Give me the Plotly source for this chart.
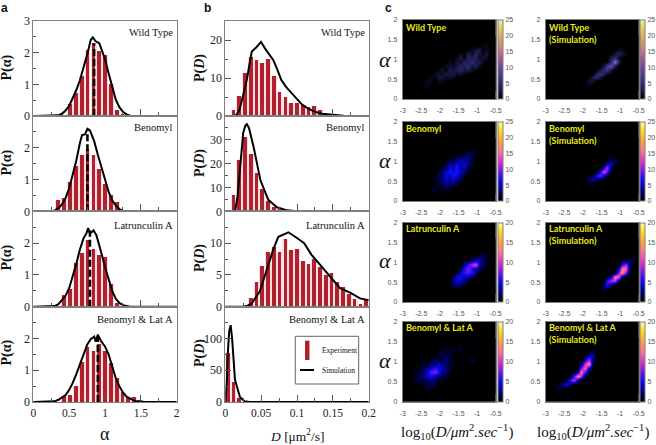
import plotly.graph_objects as go

W, H = 656, 445
SERIF = "Liberation Serif"
SANS = "Liberation Sans"

# ---------- panel a: P(alpha) ----------
alpha_bins = [.352, .433, .517, .600, .680, .760, .845, .925, 1.005, 1.09, 1.17, 1.25, 1.33, 1.41, 1.49]
alpha_wt  = [0, 0, .38, .72, 1.25, 2.08, 2.30, 2.06, 1.93, 1.00, .20, .05, 0, 0, 0]
alpha_ben = [.35, .43, .93, 1.43, 1.78, 1.97, 1.76, 1.33, .85, .52, .28, .05, 0, 0, 0]
alpha_lat = [0, .35, .55, 1.35, 1.67, 2.10, 1.80, 1.62, 1.55, .70, .12, 0, 0, 0, 0]
alpha_bl  = [0, .20, .22, .50, 1.28, 1.73, 1.62, 1.83, 1.63, 1.25, .78, .33, .12, .18, .06]

sim_a_wt_x = [0, .3, .35, .4, .45, .5, .55, .6, .65, .7, .75, .78, .8, .83, .87, .92, .96, 1, 1.05, 1.1, 1.15, 1.2, 1.25, 1.3, 1.35, 1.4, 2]
sim_a_wt_y = [0, 0, .02, .07, .17, .32, .55, .82, 1.13, 1.5, 1.93, 2.2, 2.4, 2.48, 2.36, 2.3, 2.05, 1.8, 1.35, .9, .52, .28, .13, .05, .01, 0, 0]
sim_a_ben_x = [0, .25, .3, .35, .4, .45, .5, .55, .6, .65, .68, .72, .755, .79, .85, .9, .95, 1, 1.05, 1.1, 1.15, 1.2, 1.25, 1.3, 2]
sim_a_ben_y = [0, 0, .03, .1, .22, .42, .72, 1.12, 1.6, 2.15, 2.4, 2.42, 2.6, 2.55, 2.2, 1.78, 1.38, 1, .62, .35, .18, .07, .02, 0, 0]
sim_a_lat_x = [0, .25, .3, .35, .4, .45, .5, .55, .6, .65, .7, .74, .765, .79, .84, .88, .92, .96, 1, 1.05, 1.1, 1.15, 1.2, 1.25, 1.3, 1.35, 2]
sim_a_lat_y = [0, 0, .02, .08, .2, .35, .58, .95, 1.35, 1.8, 2.15, 2.3, 2.47, 2.3, 2.4, 2.25, 1.95, 1.6, 1.25, .85, .5, .25, .12, .05, .02, 0, 0]
sim_a_bl_x = [0, .25, .3, .35, .4, .45, .5, .55, .6, .65, .7, .75, .8, .85, .87, .9, .95, 1, 1.05, 1.1, 1.15, 1.2, 1.25, 1.3, 1.35, 1.4, 1.45, 1.5, 1.55, 2]
sim_a_bl_y = [0, 0, .02, .07, .14, .22, .38, .6, .88, 1.2, 1.55, 1.8, 1.98, 2.06, 1.9, 2.12, 1.9, 1.75, 1.5, 1.1, .75, .5, .3, .17, .1, .05, .02, .01, 0, 0]

mean_alpha = [.848, .755, .79, .90]
mean_alpha_top = [2.3, 2.55, 2.4, 2.05]

# ---------- panel b: P(D) ----------
d_bins = [.0037, .0117, .0198, .0278, .0359, .0439, .0520, .0600, .0681, .0761, .0842, .0922, .1003, .1083, .1164,
          .1244, .1325, .1405, .1486, .1566, .1647, .1727, .1808, .1888, .1969]
d_wt  = [0, 1.7, 5.2, 11.3, 15.5, 14.7, 13.9, 15.0, 10.4, 6.2, 5.0, 3.3, 3.5, 3.0, 2.3, 2.7, 1.6, .5, 0, 0, 0, 0, 0, 0, 0]
d_ben = [0, 6.8, 21.7, 31.2, 24.2, 15.9, 9.5, 4.4, 2.0, 1.0, 0, 0, 0, 0, 0, 0, 0, 0, 0, 0, 0, 0, 0, 0, 0]
d_lat = [0, 0, 0, 0, 1.4, 3.9, 6.3, 8.6, 9.4, 8.6, 10.6, 8.8, 9.1, 7.2, 6.6, 7.5, 6.2, 5.0, 5.2, 3.8, 3.0, 2.0, 1.2, .4, 1.2]
d_bl  = [77, 32, 6, .5, 0, 0, 0, 0, 0, 0, 0, 0, 0, 0, 0, 0, 0, 0, 0, 0, 0, 0, 0, 0, 0]

sim_d_wt_x = [0, .013, .016, .02, .025, .03, .034, .037, .043, .0498, .056, .067, .072, .078, .085, .0925, .1, .107, .115, .125, .135, .15, .165, .178, .2]
sim_d_wt_y = [0, 0, .4, 1.8, 5.5, 9.5, 14.0, 17.0, 18.0, 19.5, 17.6, 14.7, 12.5, 9.5, 7.6, 6.0, 4.3, 3.0, 2.0, 1.1, .6, .25, .08, 0, 0]
sim_d_ben_x = [0, .0135, .017, .0205, .025, .028, .03, .033, .0395, .049, .06, .072, .086, .1, .2]
sim_d_ben_y = [0, 0, 6, 19, 33, 36, 36.6, 35, 27, 13, 4.8, 1.7, .4, 0, 0]
sim_d_lat_x = [0, .025, .031, .0368, .048, .0575, .067, .074, .08, .088, .1, .11, .12, .132, .146, .16, .174, .188, .2]
sim_d_lat_y = [0, 0, .15, .5, 2.4, 5.8, 9.0, 11.0, 11.3, 11.7, 10.8, 10.0, 8.2, 6.6, 4.7, 2.9, 2.2, 1.3, 1.0]
sim_d_bl_x = [0, .002, .0035, .0055, .0075, .0095, .0135, .0204, .027, .034, .2]
sim_d_bl_y = [0, 30, 77, 112, 121, 100, 35, 8, 1, 0, 0]

# ---------- panel c: 2D histograms, digits are base-36 counts ----------
log_d_centers = [-2.95 + .1 * i for i in range(25)]
alpha_centers = [1.55, 1.45, 1.35, 1.25, 1.15, 1.05, .95, .85, .75, .65, .55, .45, .35, .25]
Z0 = "00000 00000 00000 00000 00000"

h_wt_exp = [Z0, Z0,
 "00000 00000 00000 00000 01100", "00000 00000 00000 00012 30100", "00000 00000 00000 10314 21200",
 "00000 00000 00001 30434 12100", "00000 00000 00102 14352 31000", "00000 00000 01212 43524 10000",
 "00000 00000 20323 42310 00000", "00000 00012 13231 21000 00000", "00000 00102 21210 00000 00000",
 "00000 01101 10000 00000 00000", "00000 01000 00000 00000 00000", Z0]
h_wt_sim = [Z0, Z0, Z0,
 "00000 00000 00000 00001 10000", "00000 00000 00000 00024 21000", "00000 00000 00000 00351 00000",
 "00000 00000 00000 004e3 00000", "00000 00000 00000 27a30 00000", "00000 00000 00002 56200 00000",
 "00000 00000 00036 41000 00000", "00000 00000 00353 00000 00000", "00000 00000 02200 00000 00000",
 "00000 00000 01000 00000 00000", Z0]
h_ben_exp = [Z0, Z0, Z0,
 "00000 00000 00000 00121 00000", "00000 00000 00001 13320 00000", "00000 00000 00213 53410 00000",
 "00000 00000 02436 46320 00000", "00000 00000 13657 45200 00000", "00000 00001 35767 53100 00000",
 "00000 00002 36576 32000 00000", "00000 00012 35453 20000 00000", "00000 00001 24332 00000 00000",
 "00000 00021 12100 00000 00000", "00000 00110 10000 00000 00000"]
h_ben_sim = [Z0, Z0, Z0, Z0, Z0,
 "00000 00000 00000 00220 00000", "00000 00000 00000 05510 00000", "00000 00000 00000 5c300 00000",
 "00000 00000 00005 e9000 00000", "00000 00000 0016a 51000 00000", "00000 00000 03530 00000 00000",
 "00000 00000 01000 00000 00000", Z0, Z0]
h_lat_exp = [Z0, Z0, Z0,
 "00000 00000 00000 00000 01000", "00000 00000 00000 00001 22100", "00000 00000 00000 00134 42100",
 "00000 00000 00000 0369b 42000", "00000 00000 00000 25854 21000", "00000 00000 00001 46763 00000",
 "00000 00000 00025 54420 00000", "00000 00000 00034 43100 00000", "00000 00000 00123 21000 00000", Z0, Z0]
h_lat_sim = [Z0, Z0, Z0, Z0, Z0,
 "00000 00000 00000 00000 01310", "00000 00000 00000 00000 69200", "00000 00000 00000 00004 dc100",
 "00000 00000 00000 00008 f8000", "00000 00000 00000 003dc 20000", "00000 00000 00000 069a1 00000",
 "00000 00000 00000 26300 00000", "00000 00000 00000 21000 00000", Z0]
h_bl_exp = [Z0,
 "00000 00000 00000 00010 00000", "00000 00000 01010 10000 00000", "00000 00000 20200 10000 00000",
 "00000 00001 12100 00000 00000", "00000 00122 13100 00020 00000", "00000 20324 32110 00000 00000",
 "00001 13465 43100 00000 00000", "00011 24786 32000 00000 00000", "00102 34543 21000 00000 00000",
 "00012 12320 10000 00000 00000", "00000 12120 00000 00000 00000", "00000 01100 00000 00000 00000", Z0]
h_bl_sim = [Z0, Z0, Z0,
 "00000 00000 01200 00000 00000", "00000 00000 04410 00000 00000", "00000 00000 49200 00000 00000",
 "00000 00001 ae100 00000 00000", "00000 00007 c4000 00000 00000", "00000 0003d 71000 00000 00000",
 "00000 006ea 10000 00000 00000", "00000 06a30 00000 00000 00000", "00003 53000 00000 00000 00000",
 "00021 00000 00000 00000 00000", Z0]

titles = ["Wild Type", "Benomyl", "Latrunculin A", "Benomyl & Lat A"]

# ---------- styling / geometry (pixels) ----------
DARK = "#b2202e"
PALE = "#fbdfe0"
FRAME = "#7f7f7f"
TICK = "#555555"
LINE_ROWS = [(21, 116), (116, 211.3), (211.3, 306.7), (306.7, 402)]
AX_A = (33.3, 176.7)
AX_B = (225.3, 368.7)
HEAT_ROWS = [(20, 99), (121.7, 201), (222.7, 302), (322, 401.7)]
HEAT_COLS = [(402.7, 495.7), (545.7, 638.7)]
CB_X = [497.6, 640.2]

BRIGHT = [[0, "#000000"], [.1, "#00005a"], [.25, "#0808f0"], [.4, "#8a18e8"], [.5, "#e030c8"],
          [.62, "#ff7096"], [.75, "#ffa040"], [.9, "#ffe020"], [1, "#ffffb0"]]
MUTED = [[0, "#000000"], [.1, "#181848"], [.25, "#363688"], [.4, "#6c4898"], [.5, "#a05498"],
         [.62, "#c87890"], [.75, "#d8a060"], [.9, "#e0d060"], [1, "#f0f0b0"]]


def xd(p0, p1):
    return [p0 / W, p1 / W]


def yd(top, bottom):
    return [1 - bottom / H, 1 - top / H]


def decode(rows):
    parsed = [[int(c, 36) for c in r.replace(" ", "")] for r in rows]
    return parsed[::-1]


fig = go.Figure()
layout = {}
axn = 0
anns = []
shapes = []


def txt(x, y, s, size, font=SERIF, color="#111111", xanchor="center", angle=0):
    anns.append(dict(x=x / W, y=1 - y / H, xref="paper", yref="paper", text=s, showarrow=False,
                     font=dict(size=size, family=font, color=color), xanchor=xanchor, yanchor="middle",
                     textangle=angle, borderpad=0, bgcolor="rgba(0,0,0,0)"))


def new_axes():
    global axn
    axn += 1
    s = "" if axn == 1 else str(axn)
    return "x" + s, "y" + s, "xaxis" + s, "yaxis" + s


def line_panel(col, row, bins, vals, bw, simx, simy, xr, yr, xticks, xlabels, xminor, yticks, yminor):
    xa, ya, xk, yk = new_axes()
    fig.add_trace(go.Bar(x=bins, y=vals, width=bw, marker=dict(color=PALE, line_width=0), xaxis=xa, yaxis=ya,
                         showlegend=False, hoverinfo="skip"))
    fig.add_trace(go.Bar(x=bins, y=vals, width=bw * .64, marker=dict(color=DARK, line_width=0), xaxis=xa, yaxis=ya,
                         name="Experiment", showlegend=False))
    fig.add_trace(go.Scatter(x=simx, y=simy, mode="lines", line=dict(color="black", width=2), xaxis=xa, yaxis=ya,
                             name="Simulation", showlegend=False, cliponaxis=False))
    t, b = LINE_ROWS[row]
    layout[xk] = dict(domain=xd(*col), anchor=ya, range=xr, showline=True, mirror=True, linecolor=FRAME, linewidth=1,
                      showgrid=False, zeroline=False, ticks="inside", ticklen=7, tickcolor=TICK, tickwidth=1,
                      tickmode="array", tickvals=xticks, ticktext=xlabels, showticklabels=row == 3,
                      tickfont=dict(family=SERIF, size=11.5, color="#222"),
                      minor=dict(ticks="inside", ticklen=4, tickcolor=TICK, tickvals=xminor))
    layout[yk] = dict(domain=yd(t, b), anchor=xa, range=yr, showline=True, mirror=True, linecolor=FRAME, linewidth=1,
                      showgrid=False, zeroline=False, ticks="inside", ticklen=6, tickcolor=TICK, tickwidth=1,
                      tickmode="array", tickvals=yticks, tickfont=dict(family=SERIF, size=12, color="#222"),
                      minor=dict(ticks="inside", ticklen=3, tickcolor=TICK, tickvals=yminor))
    return xa, ya


# panel a
a_sets = [(alpha_wt, sim_a_wt_x, sim_a_wt_y), (alpha_ben, sim_a_ben_x, sim_a_ben_y),
          (alpha_lat, sim_a_lat_x, sim_a_lat_y), (alpha_bl, sim_a_bl_x, sim_a_bl_y)]
a_yticks = [[0, 1, 2, 3], [0, 1, 2], [0, 1, 2], [0, 1, 2]]
for r, (vals, sx, sy) in enumerate(a_sets):
    xa, ya = line_panel(AX_A, r, alpha_bins, vals, .0815, sx, sy, [0, 2], [0, 3],
                        [0, .5, 1, 1.5, 2], ["0", "0.5", "1", "1.5", "2"], [.25, .75, 1.25, 1.75],
                        a_yticks[r], [.5, 1.5, 2.5])
    fig.add_trace(go.Scatter(x=[mean_alpha[r], mean_alpha[r]], y=[0, mean_alpha_top[r]], mode="lines",
                             line=dict(color="black", width=2.6, dash="7px,3px"), xaxis=xa, yaxis=ya,
                             showlegend=False, hoverinfo="skip"))

# panel b
b_sets = [(d_wt, sim_d_wt_x, sim_d_wt_y, [0, 25], [0, 10, 20], [5, 15]),
          (d_ben, sim_d_ben_x, sim_d_ben_y, [0, 40], [0, 10, 20, 30], [5, 15, 25, 35]),
          (d_lat, sim_d_lat_x, sim_d_lat_y, [0, 15], [0, 5, 10], [2.5, 7.5, 12.5]),
          (d_bl, sim_d_bl_x, sim_d_bl_y, [0, 150], [0, 50, 100], [25, 75, 125])]
for r, (vals, sx, sy, yr, yt, ym) in enumerate(b_sets):
    line_panel(AX_B, r, d_bins, vals, .00805, sx, sy, [0, .2], yr,
               [0, .05, .1, .15, .2], ["0", "0.05", "0.1", "0.15", "0.2"], [.025, .075, .125, .175], yt, ym)

# panel c
heat = [(h_wt_exp, h_wt_sim, 25, MUTED), (h_ben_exp, h_ben_sim, 25, BRIGHT),
        (h_lat_exp, h_lat_sim, 20, BRIGHT), (h_bl_exp, h_bl_sim, 20, BRIGHT)]
asc_alpha = alpha_centers[::-1]
for r, (exp, sim, zmax, cs) in enumerate(heat):
    t, b = HEAT_ROWS[r]
    for c, rows in enumerate((exp, sim)):
        xa, ya, xk, yk = new_axes()
        shapes.append(dict(type="rect", xref=xa + " domain", yref=ya + " domain", x0=0, x1=1, y0=0, y1=1,
                           fillcolor="black", line_width=0, layer="below"))
        fig.add_trace(go.Heatmap(x=log_d_centers, y=asc_alpha, z=decode(rows), zmin=0, zmax=zmax, colorscale=cs,
                                 zsmooth="best", xaxis=xa, yaxis=ya,
                                 colorbar=dict(x=CB_X[c] / W, xanchor="left", xpad=0, ypad=0, y=1 - b / H, yanchor="bottom",
                                               len=(b - t) / H, lenmode="fraction", thickness=5.4, thicknessmode="pixels",
                                               outlinecolor=FRAME, outlinewidth=1, borderwidth=0, ticks="",
                                               tickmode="array", tickvals=list(range(0, zmax + 1, 5)),
                                               tickfont=dict(family=SANS, size=7, color="#555"))))
        layout[xk] = dict(domain=xd(*HEAT_COLS[c]), anchor=ya, range=[-3, -.5], showline=True, mirror=True,
                          linecolor=FRAME, linewidth=1, showgrid=False, zeroline=False, ticks="outside", ticklen=5,
                          tickcolor="rgba(0,0,0,0)", tickmode="array", tickvals=[-3, -2.5, -2, -1.5, -1, -.5],
                          ticktext=["-3", "-2.5", "-2", "-1.5", "-1", "-0.5"],
                          tickfont=dict(family=SANS, size=7, color="#555"), tickangle=0)
        layout[yk] = dict(domain=yd(t, b), anchor=xa, range=[0, 2], showline=True, mirror=True,
                          linecolor=FRAME, linewidth=1, showgrid=False, zeroline=False, ticks="outside", ticklen=3,
                          tickcolor="rgba(0,0,0,0)", tickmode="array", tickvals=[0, .5, 1, 1.5, 2],
                          ticktext=["0", "0.5", "1", "1.5", "2"], tickfont=dict(family=SANS, size=7, color="#555"))

# text: panel letters
txt(4.5, 8, "<b>a</b>", 12, SANS, "#111")
txt(207, 8, "<b>b</b>", 12, SANS, "#111")
txt(388, 8, "<b>c</b>", 12, SANS, "#111")

# text: panel names and y titles
title_y = [32, 127, 225, 319]
lab_y_a = [68, 163, 258, 353]
for r in range(4):
    txt(173.5, title_y[r], titles[r], 10.5, xanchor="right")
    txt(366, title_y[r], titles[r], 10.5, xanchor="right")
    txt(6.5, lab_y_a[r], "<b>P(α)</b>", 14, angle=-90)
    txt(200, lab_y_a[r], "<b>P(<i>D</i>)</b>", 14, angle=-90)

txt(105, 433.5, "α", 18)
txt(297, 435, "<i>D</i> [μm<sup>2</sup>/s]", 13.5)
log_label = "log<sub>10</sub>(<i>D/μm</i><sup>2</sup><i>.sec</i><sup>−1</sup>)"
txt(456.5, 432, log_label, 15)
txt(592.5, 432, log_label, 15)

alpha_side_y = [59, 160, 260, 360]
for y in alpha_side_y:
    txt(385, y, "<i>α</i>", 22)

# text: heat-map captions
YEL = "#e8e820"
cap_col = [405, 548]
cap_y = [27.5, 128.5, 228.5, 327.5]
for r in range(4):
    txt(cap_col[0], cap_y[r], "<b>%s</b>" % titles[r], 9, "Lato", YEL, "left")
    txt(cap_col[1], cap_y[r], "<b>%s</b>" % titles[r], 9, "Lato", YEL, "left")
    txt(cap_col[1], cap_y[r] + 11.5, "<b>(Simulation)</b>", 9, "Lato", YEL, "left")

# legend box in panel b, last row
shapes += [
    dict(type="rect", xref="paper", yref="paper", x0=295.3 / W, x1=358.7 / W, y0=1 - 384 / H, y1=1 - 336.3 / H,
         line=dict(color="#666", width=1), fillcolor="white"),
    dict(type="rect", xref="paper", yref="paper", x0=305 / W, x1=309.5 / W, y0=1 - 360 / H, y1=1 - 340.7 / H,
         line=dict(width=0), fillcolor=DARK),
    dict(type="line", xref="paper", yref="paper", x0=300 / W, x1=314 / W, y0=1 - 370 / H, y1=1 - 370 / H,
         line=dict(color="black", width=2)),
]
txt(320.5, 350.7, "Experiment", 7.5, xanchor="left")
txt(320.5, 370, "Simulation", 7.5, xanchor="left")

fig.update_layout(width=W, height=H, margin=dict(l=0, r=0, t=0, b=0, autoexpand=False), paper_bgcolor="white",
                  plot_bgcolor="white", barmode="overlay", bargap=0, showlegend=False,
                  annotations=anns, shapes=shapes, **layout)
fig.write_html("out.html", config={"displayModeBar": False}, post_script="document.body.style.margin='0';")
